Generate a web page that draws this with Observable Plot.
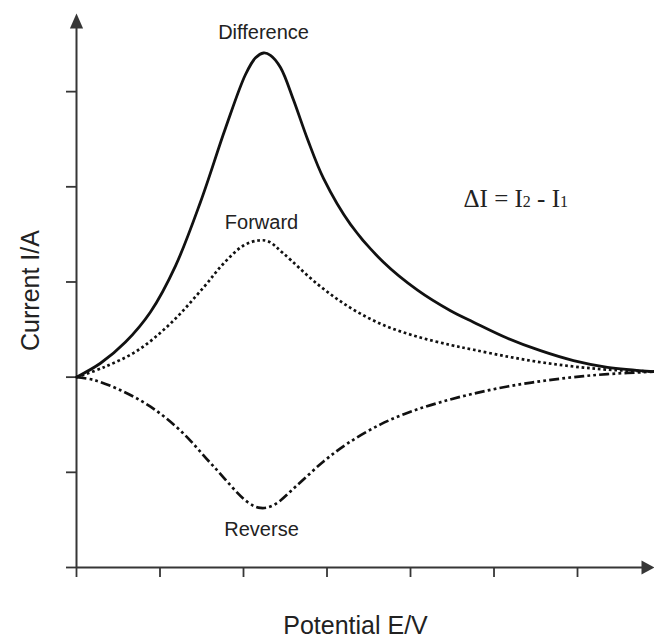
<!DOCTYPE html>
<html>
<head>
<meta charset="utf-8">
<style>body{margin:0;background:#fff;}</style>
<script src="https://cdn.jsdelivr.net/npm/d3@7"></script>
<script src="https://cdn.jsdelivr.net/npm/@observablehq/plot@0.6"></script>
</head>
<body>
<div id="chart"></div>
<script>
// ---- data (arbitrary units) ----
const xTicks = [0, 1, 2, 3, 4, 5, 6];
const yTicks = [-2, -1, 0, 1, 2, 3];

const differenceE = [0, 0.287, 0.587, 0.886, 1.186, 1.485, 1.784, 2.024, 2.144, 2.240, 2.323, 2.443, 2.599, 2.767, 2.958, 3.281, 3.677, 4.084, 4.479, 4.755, 5.162, 5.557, 5.952, 6.359, 6.922];
const differenceI = [0, 0.146, 0.369, 0.685, 1.170, 1.841, 2.615, 3.180, 3.355, 3.406, 3.382, 3.254, 2.912, 2.500, 2.089, 1.606, 1.207, 0.914, 0.698, 0.578, 0.409, 0.278, 0.174, 0.103, 0.058];

const forwardE = [0, 0.323, 0.731, 1.126, 1.521, 1.761, 2.000, 2.180, 2.299, 2.479, 2.886, 3.281, 3.677, 4.084, 4.479, 4.755, 5.162, 5.557, 5.952, 6.359, 6.922];
const forwardI = [0, 0.102, 0.280, 0.564, 0.942, 1.194, 1.383, 1.436, 1.426, 1.299, 0.978, 0.728, 0.547, 0.425, 0.338, 0.288, 0.216, 0.157, 0.112, 0.079, 0.058];

const reverseE = [0, 0.204, 0.527, 0.886, 1.246, 1.641, 2.048, 2.204, 2.359, 2.647, 2.958, 3.246, 3.641, 4.000, 4.359, 4.755, 5.162, 5.557, 5.952, 6.359, 6.922];
const reverseI = [0, -0.029, -0.137, -0.310, -0.563, -0.937, -1.312, -1.374, -1.346, -1.132, -0.886, -0.697, -0.496, -0.364, -0.263, -0.173, -0.098, -0.043, 0.000, 0.032, 0.058];

const seriesNames = ["Difference", "Forward", "Reverse"];
const formula = "ΔI = I2 - I1";
const xTitle = "Potential E/V";
const yTitle = "Current I/A";

// ---- build tables ----
const toRows = (E, I, name) => E.map((e, i) => ({E: e, I: I[i], series: name}));
const difference = toRows(differenceE, differenceI, seriesNames[0]);
const forward = toRows(forwardE, forwardI, seriesNames[1]);
const reverse = toRows(reverseE, reverseI, seriesNames[2]);

const peakDiff = d3.greatest(difference, d => d.I);
const peakFwd = d3.greatest(forward, d => d.I);
const minRev = d3.least(reverse, d => d.I);

const xDomain = [0, 6.922];
const yDomain = [-2, 3.8];

const axisColor = "#363636";
const ink = "#111";
const sans = "'Liberation Sans', Arial, Helvetica, sans-serif";

const arrowUp = {draw(c) { c.moveTo(0, 0); c.lineTo(6.6, 15); c.lineTo(-6.6, 15); c.closePath(); }};
const arrowRight = {draw(c) { c.moveTo(0, 0); c.lineTo(-13, 7); c.lineTo(-13, -7); c.closePath(); }};

const chart = Plot.plot({
  width: 654,
  height: 637,
  marginLeft: 76,
  marginRight: 0,
  marginTop: 15,
  marginBottom: 70,
  style: {fontFamily: sans, background: "#fff", color: "#222"},
  x: {domain: xDomain},
  y: {domain: yDomain},
  marks: [
    // axis lines
    Plot.ruleX([0], {y1: yDomain[0], y2: yDomain[1], insetBottom: -10, stroke: axisColor, strokeWidth: 2}),
    Plot.ruleY([yDomain[0]], {x1: xDomain[0], x2: xDomain[1], insetRight: 4, stroke: axisColor, strokeWidth: 2}),
    Plot.axisY({ticks: yTicks, tickSize: 10, tickFormat: () => "", label: null, stroke: axisColor, strokeWidth: 1.8}),
    Plot.axisX({ticks: xTicks, tickSize: 10, tickFormat: () => "", label: null, stroke: axisColor, strokeWidth: 1.8}),
    Plot.dot([null], {frameAnchor: "top-left", dy: -2, symbol: arrowUp, fill: axisColor, stroke: "none"}),
    Plot.dot([null], {frameAnchor: "bottom-right", symbol: arrowRight, fill: axisColor, stroke: "none"}),

    // curves
    Plot.line(reverse, {x: "E", y: "I", curve: "catmull-rom", stroke: ink, strokeWidth: 2.7,
      strokeDasharray: "10,3.2,2.8,3.2,2.8,3.2", strokeLinecap: "butt"}),
    Plot.line(forward, {x: "E", y: "I", curve: "catmull-rom", stroke: ink, strokeWidth: 2.7,
      strokeDasharray: "2.7,2.8", strokeLinecap: "butt"}),
    Plot.line(difference, {x: "E", y: "I", curve: "catmull-rom", stroke: ink, strokeWidth: 2.8}),

    // curve labels
    Plot.text([peakDiff], {x: "E", y: "I", text: "series", dy: -14, lineAnchor: "bottom", fontSize: 20, fill: "#222"}),
    Plot.text([peakFwd], {x: "E", y: "I", text: "series", dx: 3, dy: -11, lineAnchor: "bottom", fontSize: 20, fill: "#222"}),
    Plot.text([minRev], {x: "E", y: "I", text: "series", dx: 1, dy: 28, lineAnchor: "bottom", fontSize: 20, fill: "#222"}),

    // formula
    Plot.text([formula], {frameAnchor: "top-left", dx: 387, dy: 191, textAnchor: "start", lineAnchor: "bottom",
      fontSize: 25, fontFamily: "'Liberation Serif', 'Times New Roman', serif", fill: "#222"}),

    // axis titles
    Plot.text([xTitle], {frameAnchor: "bottom", textAnchor: "middle", dx: -10, dy: 66, lineAnchor: "bottom", fontSize: 25, fill: "#222"}),
    Plot.text([yTitle], {frameAnchor: "left", textAnchor: "middle", rotate: -90, dx: -38, dy: -1, lineAnchor: "bottom", fontSize: 25, fill: "#222"})
  ]
});

// subscripts in the formula
d3.select(chart).selectAll("text").filter(function() { return this.textContent === formula; })
  .each(function() {
    const t = d3.select(this);
    t.text(null);
    t.append("tspan").text("ΔI = I");
    t.append("tspan").attr("font-size", 16).text("2");
    t.append("tspan").text(" - I");
    t.append("tspan").attr("font-size", 16).text("1");
  });

document.getElementById("chart").appendChild(chart);
</script>
</body>
</html>
